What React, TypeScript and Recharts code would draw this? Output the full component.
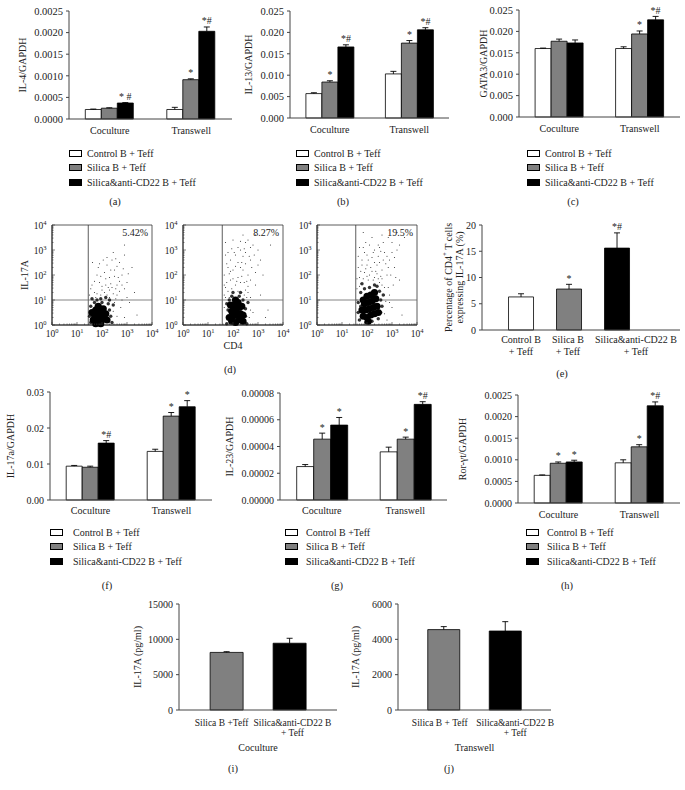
import React from "react";
import {
  BarChart,
  Bar,
  XAxis,
  YAxis,
  LabelList,
  Cell,
  ScatterChart,
  Scatter,
  ReferenceLine,
  ReferenceArea,
} from "recharts";

const FONT = "'Liberation Serif', 'Times New Roman', serif";
const INK = "#222";
const AXIS = "#444";
const fills = ["#ffffff", "#808080", "#000000"];

const groups = ["Coculture", "Transwell"];
const seriesNames = ["Control B + Teff", "Silica B + Teff", "Silica&anti-CD22 B + Teff"];
const seriesNamesG = ["Control B +Teff", "Silica B + Teff", "Silica&anti-CD22 B + Teff"];

// (a) IL-4
const il4Ticks = [0, 0.0005, 0.001, 0.0015, 0.002, 0.0025];
const il4Vals = [[0.00022, 0.00025, 0.00037], [0.00022, 0.00091, 0.00203]];
const il4Errs = [[0.00001, 0.00001, 0.00001], [0.00005, 0.00002, 0.0001]];
const il4Marks = [["", "", "* #"], ["", "*", "*#"]];

// (b) IL-13
const il13Ticks = [0, 0.005, 0.01, 0.015, 0.02, 0.025];
const il13Vals = [[0.0057, 0.0084, 0.0166], [0.0103, 0.0175, 0.0206]];
const il13Errs = [[0.0002, 0.0003, 0.0005], [0.0006, 0.0006, 0.0005]];
const il13Marks = [["", "*", "*#"], ["", "*", "*#"]];

// (c) GATA3
const gata3Ticks = [0, 0.005, 0.01, 0.015, 0.02, 0.025];
const gata3Vals = [[0.016, 0.0177, 0.0173], [0.016, 0.0194, 0.0227]];
const gata3Errs = [[0.0001, 0.0005, 0.0007], [0.0004, 0.0007, 0.0008]];
const gata3Marks = [["", "", ""], ["", "*", "*#"]];

// (d) flow cytometry, values in decades (log10)
const flowPct = ["5.42%", "8.27%", "19.5%"];
const gateX = [1.45, 1.57, 1.55];
const gateY = 1;
const flow1Core = [[1.65, 0.2], [1.8, 0.15], [1.95, 0.2], [2.1, 0.25], [1.7, 0.4], [1.85, 0.35], [2.0, 0.4], [2.15, 0.45], [1.75, 0.6], [1.9, 0.55], [2.05, 0.65], [1.85, 0.75], [1.6, 0.5], [2.2, 0.2], [1.95, 0.05], [1.75, 0.05]];
const flow1Halo = [[1.55, 0.1], [1.55, 0.75], [2.3, 0.6], [2.35, 0.35], [2.0, 0.9], [1.7, 0.9], [2.25, 0.85], [1.6, 1.05], [2.4, 0.1], [1.95, 1.05], [2.45, 0.8], [1.5, 0.35], [2.3, 1.0], [1.8, 1.0], [2.15, 1.1]];
const flow1Dots = [[1.7, 1.3], [2.0, 1.4], [2.2, 1.2], [2.4, 1.5], [1.9, 1.7], [2.6, 1.6], [2.3, 1.9], [2.1, 2.1], [2.5, 2.2], [2.8, 2.0], [2.7, 2.5], [2.4, 2.6], [2.2, 2.4], [1.8, 2.0], [3.0, 1.7], [3.2, 2.3], [2.9, 2.8], [2.6, 1.2], [2.8, 1.0], [3.1, 0.9], [1.6, 1.6], [1.75, 1.1], [2.5, 0.9], [3.4, 0.4], [2.9, 0.3], [1.5, 1.2], [2.05, 2.6], [2.9, 3.2], [3.5, 3.6], [2.3, 1.4], [2.65, 1.9], [2.45, 2.9], [1.85, 2.3], [2.75, 0.7], [3.3, 1.3], [1.62, 2.5], [2.15, 1.6],
  [1.65, 1.0], [1.8, 1.25], [1.95, 1.2], [2.1, 1.3], [2.3, 1.1], [2.45, 1.25], [2.55, 1.45], [2.35, 1.65], [2.15, 1.85], [1.95, 1.95], [2.0, 1.55], [1.7, 1.75], [2.5, 1.95], [2.7, 1.75], [2.6, 2.35], [2.35, 2.2], [2.85, 2.25], [3.05, 2.05], [2.2, 2.7], [2.55, 2.65], [1.9, 2.45], [2.7, 1.35], [2.9, 1.45], [2.45, 0.55], [2.6, 0.35], [2.55, 1.05], [1.55, 1.45], [2.25, 1.5], [3.0, 1.1], [2.8, 1.6]];
const flow2Core = [[1.95, 0.15], [2.1, 0.1], [2.25, 0.2], [2.4, 0.15], [2.0, 0.35], [2.15, 0.4], [2.3, 0.45], [1.95, 0.55], [2.1, 0.6], [2.25, 0.7], [2.05, 0.8], [2.2, 0.9], [2.35, 0.75], [1.9, 0.8], [2.1, 1.0], [1.85, 0.3], [2.4, 0.4]];
const flow2Halo = [[1.8, 0.3], [1.8, 0.6], [2.5, 0.35], [2.5, 0.65], [1.85, 1.0], [2.4, 1.0], [2.25, 1.15], [1.95, 1.15], [2.55, 0.05], [1.75, 0.05], [2.6, 0.9], [2.0, 1.3], [1.75, 0.85], [2.3, 1.3]];
const flow2Dots = [[1.7, 1.5], [1.9, 1.8], [2.1, 1.6], [2.3, 1.7], [2.5, 1.4], [1.65, 2.0], [1.8, 2.3], [2.0, 2.2], [2.2, 2.5], [2.4, 2.2], [2.6, 2.0], [2.7, 2.6], [2.5, 2.9], [2.3, 3.0], [2.1, 2.8], [1.9, 2.6], [1.7, 2.8], [2.8, 3.2], [2.6, 3.4], [2.4, 3.6], [3.0, 2.4], [3.2, 2.0], [2.9, 1.6], [3.1, 1.2], [2.7, 1.1], [3.4, 0.6], [2.8, 0.5], [1.65, 1.2], [1.7, 3.3], [2.0, 3.4], [3.5, 3.2], [2.2, 1.35], [2.45, 1.7], [1.85, 1.1], [2.05, 2.9], [2.35, 2.5], [2.75, 2.3], [3.3, 0.3], [1.65, 0.7], [2.9, 3.6], [2.55, 1.1], [1.95, 1.45],
  [1.7, 1.1], [1.8, 1.35], [2.0, 1.15], [2.35, 1.3], [2.45, 1.2], [2.6, 1.3], [1.75, 1.7], [2.0, 1.85], [2.2, 1.9], [2.35, 1.95], [2.55, 1.75], [2.7, 1.8], [1.85, 2.05], [2.1, 2.35], [2.3, 2.3], [2.5, 2.45], [2.65, 2.75], [2.4, 2.75], [2.2, 3.1], [1.95, 3.05], [1.75, 2.45], [2.85, 2.8], [3.0, 3.0], [2.7, 3.1], [2.5, 3.3], [2.15, 1.75], [1.65, 1.6], [1.8, 2.9], [2.6, 1.55], [2.9, 2.1], [2.45, 3.05], [1.9, 2.15], [3.1, 2.6], [2.3, 3.35], [2.65, 0.3], [2.7, 0.6]];
const flow3Core = [[1.85, 0.35], [2.0, 0.3], [2.15, 0.4], [2.3, 0.45], [1.8, 0.6], [1.95, 0.6], [2.1, 0.65], [2.25, 0.7], [2.4, 0.75], [1.9, 0.85], [2.05, 0.9], [2.2, 0.95], [2.35, 1.05], [2.0, 1.15], [2.15, 1.2], [2.3, 1.3], [1.85, 1.0], [2.05, 0.15], [2.45, 0.5]];
const flow3Halo = [[1.7, 0.2], [1.65, 0.5], [1.65, 0.9], [2.55, 0.5], [2.55, 1.0], [2.5, 1.35], [1.75, 1.3], [1.9, 1.45], [2.1, 1.5], [2.4, 1.55], [2.2, 0.15], [2.6, 0.75], [1.95, 0.1], [2.45, 0.25], [2.3, 1.6], [1.8, 1.65], [1.75, 0.75], [2.65, 1.2]];
const flow3Dots = [[1.7, 1.9], [1.9, 2.1], [2.1, 2.0], [2.3, 1.9], [2.5, 1.7], [2.7, 1.5], [1.65, 2.3], [1.8, 2.6], [2.0, 2.4], [2.2, 2.7], [2.4, 2.4], [2.6, 2.2], [2.8, 2.0], [2.9, 2.6], [2.7, 2.9], [2.5, 3.1], [2.3, 3.0], [2.1, 3.2], [1.9, 2.9], [1.7, 3.1], [3.0, 3.3], [3.2, 3.0], [3.1, 2.3], [3.3, 1.8], [2.9, 1.2], [3.0, 0.7], [3.4, 0.4], [2.8, 0.2], [2.6, 3.6], [2.2, 3.5], [1.85, 3.7], [3.5, 3.5], [3.2, 3.7], [1.65, 0.2], [2.55, 1.95], [2.05, 1.8], [2.45, 2.75], [2.75, 2.45], [3.05, 1.6], [1.75, 1.65], [2.35, 2.15], [2.85, 3.5], [1.95, 3.3],
  [1.6, 1.0], [1.6, 1.45], [1.7, 1.55], [1.85, 1.85], [2.0, 1.95], [2.25, 1.8], [2.45, 1.85], [2.6, 1.6], [2.7, 1.2], [2.75, 0.95], [2.7, 0.45], [2.6, 1.85], [1.75, 2.15], [1.95, 2.25], [2.15, 2.3], [2.3, 2.5], [2.5, 2.5], [2.65, 2.6], [2.85, 2.3], [2.95, 2.0], [1.8, 2.4], [2.05, 2.6], [2.25, 2.9], [2.45, 3.2], [2.65, 3.3], [2.8, 2.75], [3.1, 2.7], [3.3, 3.2], [1.65, 2.75], [2.0, 2.8], [1.6, 1.85], [2.4, 2.05], [2.2, 2.15], [3.15, 1.9], [2.9, 0.9], [1.6, 0.5], [2.85, 1.5], [3.0, 2.9], [2.55, 2.95], [1.85, 3.1]];
const decades = [0, 1, 2, 3, 4];

// (e) % IL-17A+ of CD4+
const pctGroups = ["Control B|+ Teff", "Silica B|+ Teff", "Silica&anti-CD22 B|+ Teff"];
const pctTicks = [0, 5, 10, 15, 20];
const pctVals = [6.3, 7.8, 15.6];
const pctErrs = [0.6, 0.9, 2.9];
const pctMarks = ["", "*", "*#"];

// (f) IL-17a
const il17Ticks = [0, 0.01, 0.02, 0.03];
const il17Vals = [[0.0094, 0.0091, 0.0158], [0.0135, 0.0233, 0.0259]];
const il17Errs = [[0.0002, 0.0003, 0.0007], [0.0006, 0.001, 0.0017]];
const il17Marks = [["", "", "*#"], ["", "*", "*"]];

// (g) IL-23
const il23Ticks = [0, 0.00002, 0.00004, 0.00006, 0.00008];
const il23Vals = [[0.000025, 0.0000455, 0.000056], [0.000036, 0.0000455, 0.0000715]];
const il23Errs = [[0.0000015, 0.0000045, 0.0000057], [0.0000035, 0.0000015, 0.000002]];
const il23Marks = [["", "*", "*"], ["", "*", "*#"]];

// (h) Ror-γt
const rorTicks = [0, 0.0005, 0.001, 0.0015, 0.002, 0.0025];
const rorVals = [[0.00064, 0.00092, 0.00095], [0.00093, 0.0013, 0.00225]];
const rorErrs = [[0.00001, 0.00003, 0.00004], [0.00007, 0.00005, 0.00009]];
const rorMarks = [["", "*", "*"], ["", "*", "*#"]];

// (i), (j) IL-17A ELISA
const elisaGroupsI = ["Silica B +Teff", "Silica&anti-CD22 B|+ Teff"];
const elisaGroupsJ = ["Silica B + Teff", "Silica&anti-CD22 B|+ Teff"];
const cocTicks = [0, 5000, 10000, 15000];
const cocVals = [8150, 9450];
const cocErrs = [100, 700];
const twTicks = [0, 2000, 4000, 6000];
const twVals = [4550, 4470];
const twErrs = [170, 530];

const txt = { fontFamily: FONT, fill: INK };

// upward-only error whisker drawn on a stacked, invisible bar
const whisker = (p: any) => {
  const { x, y, width, height } = p;
  if (!(height > 0)) return <g />;
  const cx = x + width / 2;
  return (
    <g stroke="#000" strokeWidth={0.9}>
      <line x1={cx} y1={y} x2={cx} y2={y + height} />
      <line x1={cx - 3} y1={y} x2={cx + 3} y2={y} />
    </g>
  );
};

// significance marks above the whisker, one line, no wrapping
const markLabel = (p: any) => {
  const vb = p.viewBox || p;
  if (!p.value) return null;
  return (
    <text x={vb.x + vb.width / 2} y={vb.y - 2.5} textAnchor="middle" fontSize={10} {...txt}>
      {p.value}
    </text>
  );
};

const catTick = (p: any, dy: number, gap: number, size: number, shifts?: number[]) => {
  const lines = String(p.payload.value).split("|");
  const x = p.x + (shifts ? shifts[p.index] || 0 : 0);
  return (
    <text x={x} y={p.y + dy} textAnchor="middle" fontSize={size} {...txt}>
      {lines.map((l, i) => (
        <tspan key={i} x={x} dy={i === 0 ? 0 : gap}>
          {l}
        </tspan>
      ))}
    </text>
  );
};

const yTitle = (lines: any[], dx: number, gap = 12) => (p: any) => {
  const vb = p.viewBox;
  const cx = vb.x + dx;
  const cy = vb.y + vb.height / 2;
  return (
    <text transform={`rotate(-90 ${cx} ${cy})`} x={cx} y={cy} textAnchor="middle" dominantBaseline="central" fontSize={10} {...txt}>
      {lines.map((l, i) => (
        <tspan key={i} x={cx} dy={i === 0 ? -((lines.length - 1) * gap) / 2 : gap}>
          {l}
        </tspan>
      ))}
    </text>
  );
};

const xTitle = (text: string, dy: number) => (p: any) => {
  const vb = p.viewBox;
  return (
    <text x={vb.x + vb.width / 2} y={vb.y + dy} textAnchor="middle" dominantBaseline="central" fontSize={10} {...txt}>
      {text}
    </text>
  );
};

function GroupChart({ x, y, w, h, axisW, ticks, digits, title, vals, errs, marks, labelDy, tickSize = 10 }: any) {
  const mt = 14;
  const xh = 26;
  const rows = groups.map((g, i) => {
    const row: any = { group: g };
    for (let s = 0; s < 3; s++) {
      row["v" + s] = vals[i][s];
      row["e" + s] = errs[i][s];
      row["m" + s] = marks[i][s];
    }
    return row;
  });
  return (
    <div style={{ position: "absolute", left: x - axisW, top: y - mt }}>
      <BarChart
        width={axisW + w}
        height={mt + h + xh}
        data={rows}
        margin={{ top: mt, right: 0, bottom: 0, left: 0 }}
        barGap={0}
        barCategoryGap="20%"
      >
        <XAxis
          dataKey="group"
          height={xh}
          tickLine={false}
          tickSize={0}
          tickMargin={0}
          interval={0}
          axisLine={{ stroke: AXIS }}
          tick={(p: any) => catTick(p, labelDy, 12, 10)}
        />
        <YAxis
          width={axisW}
          domain={[0, ticks[ticks.length - 1]]}
          ticks={ticks}
          interval={0}
          tickSize={3}
          tickMargin={3}
          tickFormatter={(v: number) => v.toFixed(digits)}
          tick={{ fontSize: tickSize, ...txt }}
          axisLine={{ stroke: AXIS }}
          tickLine={{ stroke: AXIS }}
          label={yTitle([title], 8)}
        />
        {[0, 1, 2].flatMap((s) => [
          <Bar
            key={"v" + s}
            dataKey={"v" + s}
            stackId={"s" + s}
            fill={fills[s]}
            stroke="#000"
            strokeWidth={0.8}
            isAnimationActive={false}
          />,
          <Bar key={"e" + s} dataKey={"e" + s} stackId={"s" + s} fill="none" shape={whisker} isAnimationActive={false}>
            <LabelList dataKey={"m" + s} position="top" content={markLabel} />
          </Bar>,
        ])}
      </BarChart>
    </div>
  );
}

function SingleChart({ x, y, w, h, axisW, ticks, title, titleGap, cats, vals, errs, marks, colors, pad, labelDy, lineGap, labelSize, shifts, xh, bottomTitle }: any) {
  const mt = 14;
  const rows = cats.map((c: string, i: number) => ({ cat: c, v: vals[i], e: errs[i], m: marks ? marks[i] : "" }));
  return (
    <div style={{ position: "absolute", left: x - axisW, top: y - mt }}>
      <BarChart
        width={axisW + w}
        height={mt + h + xh}
        data={rows}
        margin={{ top: mt, right: 0, bottom: 0, left: 0 }}
        barGap={0}
        barCategoryGap="24%"
      >
        <XAxis
          dataKey="cat"
          height={xh}
          padding={pad}
          tickLine={false}
          tickSize={0}
          tickMargin={0}
          interval={0}
          axisLine={{ stroke: AXIS }}
          tick={(p: any) => catTick(p, labelDy, lineGap, labelSize, shifts)}
          label={bottomTitle ? xTitle(bottomTitle, 37) : undefined}
        />
        <YAxis
          width={axisW}
          domain={[0, ticks[ticks.length - 1]]}
          ticks={ticks}
          interval={0}
          tickSize={3}
          tickMargin={3}
          tick={{ fontSize: 10, ...txt }}
          axisLine={{ stroke: AXIS }}
          tickLine={{ stroke: AXIS }}
          label={yTitle(title, 8, titleGap)}
        />
        <Bar dataKey="v" stackId="a" stroke="#000" strokeWidth={0.8} isAnimationActive={false}>
          {rows.map((_: any, i: number) => (
            <Cell key={i} fill={colors[i]} />
          ))}
        </Bar>
        <Bar dataKey="e" stackId="a" fill="none" shape={whisker} isAnimationActive={false}>
          <LabelList dataKey="m" position="top" content={markLabel} />
        </Bar>
      </BarChart>
    </div>
  );
}

const flowTicks = decades.concat(
  decades.slice(0, 4).flatMap((d) => [2, 3, 4, 5, 6, 7, 8, 9].map((k) => d + Math.log10(k)))
);
const isMajor = (v: number) => Math.abs(v - Math.round(v)) < 1e-6;

const logTickX = (p: any) => {
  const v = p.payload.value;
  const major = isMajor(v);
  return (
    <g>
      <line x1={p.x} y1={p.y} x2={p.x} y2={p.y - (major ? 3 : 1.5)} stroke="#333" strokeWidth={0.6} />
      {major && (
        <text x={p.x} y={p.y + 11.5} textAnchor="middle" fontSize={9.5} {...txt}>
          10<tspan dy={-4} fontSize={6.5}>{Math.round(v)}</tspan>
        </text>
      )}
    </g>
  );
};

const logTickY = (p: any) => {
  const v = p.payload.value;
  const major = isMajor(v);
  return (
    <g>
      <line x1={p.x} y1={p.y} x2={p.x + (major ? 3 : 1.5)} y2={p.y} stroke="#333" strokeWidth={0.6} />
      {major && (
        <text x={p.x - 12} y={p.y + 3.5} textAnchor="middle" fontSize={9.5} {...txt}>
          10<tspan dy={-4} fontSize={6.5}>{Math.round(v)}</tspan>
        </text>
      )}
    </g>
  );
};

const dotShape = (r: number, color: string, op = 1) => (p: any) => (
  <circle cx={p.cx} cy={p.cy} r={r} fill={color} fillOpacity={op} />
);

const toPts = (a: number[][]) => a.map(([x, y]) => ({ x, y }));

function FlowPlot({ x, y, idx, core, halo, dots, yName, xName }: any) {
  const axisW = 34;
  const mt = 4;
  const xh = 30;
  const size = 100;
  return (
    <div style={{ position: "absolute", left: x - axisW, top: y - mt }}>
      <ScatterChart width={axisW + size + 4} height={mt + size + xh} margin={{ top: mt, right: 4, bottom: 0, left: 0 }}>
        <XAxis
          type="number"
          dataKey="x"
          domain={[0, 4]}
          ticks={flowTicks}
          interval={0}
          tickLine={false}
          tickSize={0}
          tickMargin={0}
          tick={logTickX}
          axisLine={{ stroke: "#333" }}
          height={xh}
          label={xName ? xTitle(xName, 20) : undefined}
        />
        <YAxis
          type="number"
          dataKey="y"
          domain={[0, 4]}
          ticks={flowTicks}
          interval={0}
          tickLine={false}
          tickSize={0}
          tickMargin={0}
          tick={logTickY}
          axisLine={{ stroke: "#333" }}
          width={axisW}
          label={yName ? yTitle([yName], 6) : undefined}
        />
        <ReferenceArea
          x1={0}
          x2={4}
          y1={0}
          y2={4}
          fill="none"
          stroke="#333"
          strokeWidth={0.8}
          label={{ value: flowPct[idx], position: "insideTopRight", offset: 4, fontSize: 10, ...txt }}
        />
        <ReferenceLine x={gateX[idx]} stroke="#333" strokeWidth={0.8} />
        <ReferenceLine y={gateY} stroke="#666" strokeWidth={0.8} />
        <Scatter data={toPts(dots)} shape={dotShape(0.55, "#333")} isAnimationActive={false} />
        <Scatter data={toPts(halo)} shape={dotShape(1.7, "#111", 0.85)} isAnimationActive={false} />
        <Scatter data={toPts(core)} shape={dotShape(3.6, "#000")} isAnimationActive={false} />
      </ScatterChart>
    </div>
  );
}

function LegendBlock({ left, top, names, gap, size }: any) {
  return (
    <div style={{ position: "absolute", left, top, fontFamily: FONT, fontSize: size, color: INK }}>
      {names.map((n: string, i: number) => (
        <div key={n} style={{ display: "flex", alignItems: "center", height: 14.5, whiteSpace: "nowrap" }}>
          <span
            style={{
              width: 13,
              height: 7,
              boxSizing: "border-box",
              border: "1px solid #000",
              background: fills[i],
              marginRight: gap,
            }}
          />
          <span>{n}</span>
        </div>
      ))}
    </div>
  );
}

function Letter({ x, y, t }: any) {
  return (
    <div
      style={{
        position: "absolute",
        left: x,
        top: y,
        transform: "translate(-50%, -50%)",
        fontFamily: FONT,
        fontSize: 10.5,
        color: INK,
      }}
    >
      {t}
    </div>
  );
}

export default function App() {
  return (
    <div style={{ position: "absolute", left: 0, top: 0, width: 685, height: 790, background: "#fff", overflow: "hidden" }}>
      <style>{`.recharts-surface{overflow:visible}`}</style>

      <GroupChart x={69} y={11} w={163} h={108} axisW={55} ticks={il4Ticks} digits={4} title="IL-4/GAPDH" vals={il4Vals} errs={il4Errs} marks={il4Marks} labelDy={15} tickSize={10.5} />
      <GroupChart x={290} y={11} w={159} h={107} axisW={50} ticks={il13Ticks} digits={3} title="IL-13/GAPDH" vals={il13Vals} errs={il13Errs} marks={il13Marks} labelDy={15} tickSize={10.5} />
      <GroupChart x={519} y={10} w={161} h={107} axisW={44} ticks={gata3Ticks} digits={3} title="GATA3/GAPDH" vals={gata3Vals} errs={gata3Errs} marks={gata3Marks} labelDy={15} tickSize={10.5} />
      <LegendBlock left={69} top={146} names={seriesNames} gap={5} size={10} />
      <LegendBlock left={296} top={146} names={seriesNames} gap={5} size={10} />
      <LegendBlock left={527} top={146} names={seriesNames} gap={5} size={10} />
      <Letter x={115} y={201} t="(a)" />
      <Letter x={343} y={201} t="(b)" />
      <Letter x={573} y={201} t="(c)" />

      <FlowPlot x={52} y={225} idx={0} core={flow1Core} halo={flow1Halo} dots={flow1Dots} yName="IL-17A" />
      <FlowPlot x={183} y={225} idx={1} core={flow2Core} halo={flow2Halo} dots={flow2Dots} xName="CD4" />
      <FlowPlot x={317} y={225} idx={2} core={flow3Core} halo={flow3Halo} dots={flow3Dots} />
      <Letter x={230} y={369} t="(d)" />

      <SingleChart
        x={482}
        y={225}
        w={198}
        h={105}
        axisW={37}
        ticks={pctTicks}
        title={[
          <>Percentage of CD4<tspan dy={-3} fontSize={7}>+</tspan><tspan dy={3}> T cells</tspan></>,
          "expressing IL-17A (%)",
        ]}
        titleGap={11}
        cats={pctGroups}
        vals={pctVals}
        errs={pctErrs}
        marks={pctMarks}
        colors={fills}
        pad={{ left: 15, right: 39 }}
        labelDy={12.5}
        lineGap={12.5}
        labelSize={10}
        shifts={[0, -1, 19]}
        xh={32}
      />
      <Letter x={562} y={373} t="(e)" />

      <GroupChart x={50} y={392} w={162} h={108} axisW={48} ticks={il17Ticks} digits={2} title="IL-17a/GAPDH" vals={il17Vals} errs={il17Errs} marks={il17Marks} labelDy={13.5} />
      <GroupChart x={280} y={393} w={167} h={107} axisW={59} ticks={il23Ticks} digits={5} title="IL-23/GAPDH" vals={il23Vals} errs={il23Errs} marks={il23Marks} labelDy={13.5} />
      <GroupChart x={518} y={395} w={162} h={108} axisW={64} ticks={rorTicks} digits={4} title="Ror-γt/GAPDH" vals={rorVals} errs={rorErrs} marks={rorMarks} labelDy={15} />
      <LegendBlock left={50} top={525} names={seriesNames} gap={10} size={10} />
      <LegendBlock left={285} top={525} names={seriesNamesG} gap={8} size={10} />
      <LegendBlock left={526} top={525} names={seriesNames} gap={8} size={10} />
      <Letter x={107} y={585} t="(f)" />
      <Letter x={337} y={585} t="(g)" />
      <Letter x={567} y={585} t="(h)" />

      <SingleChart
        x={179}
        y={604}
        w={158}
        h={106}
        axisW={50}
        ticks={cocTicks}
        title={["IL-17A (pg/ml)"]}
        cats={elisaGroupsI}
        vals={cocVals}
        errs={cocErrs}
        colors={[fills[1], fills[2]]}
        pad={{ left: 16, right: 16 }}
        labelDy={16}
        lineGap={10}
        labelSize={9.5}
        shifts={[-5, 3]}
        xh={50}
        bottomTitle="Coculture"
      />
      <SingleChart
        x={398}
        y={604}
        w={153}
        h={106}
        axisW={51}
        ticks={twTicks}
        title={["IL-17A (pg/ml)"]}
        cats={elisaGroupsJ}
        vals={twVals}
        errs={twErrs}
        colors={[fills[1], fills[2]]}
        pad={{ left: 15, right: 15 }}
        labelDy={16}
        lineGap={10}
        labelSize={9.5}
        shifts={[-4, 10]}
        xh={50}
        bottomTitle="Transwell"
      />
      <Letter x={233} y={768} t="(i)" />
      <Letter x={449} y={768} t="(j)" />
    </div>
  );
}
